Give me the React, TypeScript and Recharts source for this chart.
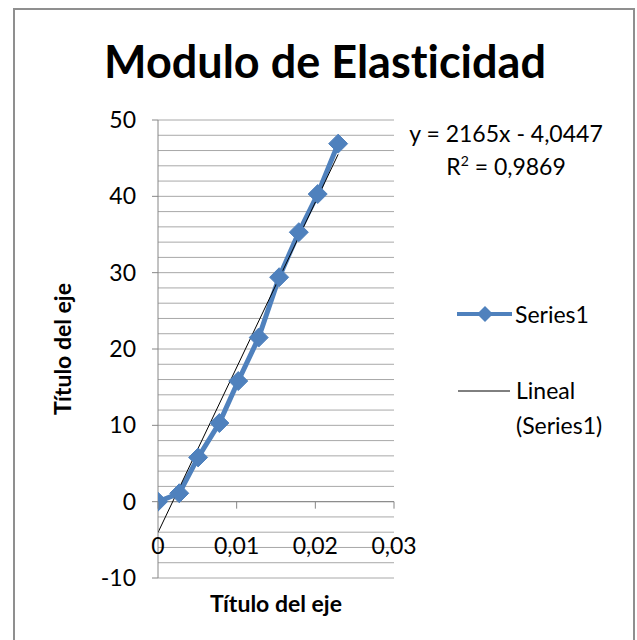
import React from "react";
import {
  ComposedChart,
  Line,
  XAxis,
  YAxis,
  CartesianGrid,
  ReferenceLine,
  Label,
} from "recharts";

// strain (x) and stress (y)
const strain = [0, 0.0027, 0.0051, 0.0078, 0.0102, 0.0128, 0.0154, 0.0179, 0.0203, 0.0229];
const stress = [0, 1.1, 5.8, 10.3, 15.8, 21.5, 29.4, 35.3, 40.3, 46.9];

// linear trendline ends, as drawn
const trendX = [0, 0.0229];
const trendY = [-4.04, 45.5];

const xTicks = [0, 0.01, 0.02, 0.03];
const yTicks = [-10, 0, 10, 20, 30, 40, 50];
const minorGrid = [-10, -8, -6, -4, -2, 0, 2, 4, 6, 8, 10, 12, 14, 16, 18, 20, 22, 24, 26, 28, 30, 32, 34, 36, 38, 40, 42, 44, 46, 48, 50];

const equation = "y = 2165x - 4,0447";
const rSquared = "0,9869";

const series = strain.map((x, i) => ({ x, y: stress[i] }));
const trend = trendX.map((x, i) => ({ x, y: trendY[i] }));

const W = 637;
const H = 640;
const TOP = 120;
const BOTTOM = 578;
const Y_MIN = -10;
const Y_MAX = 50;
const BLUE = "#4F81BD";
const GRID = "#a8a8a8";
const AXIS = "#868686";
const FONT = "Lato, 'Open Sans', sans-serif";
const TICK_FS = 23;

const Diamond = (props: any) => {
  const { cx, cy } = props;
  if (cx == null || cy == null) return null;
  const r = 9.5;
  return (
    <polygon
      points={`${cx},${cy - r} ${cx + r},${cy} ${cx},${cy + r} ${cx - r},${cy}`}
      fill={BLUE}
      stroke={BLUE}
    />
  );
};

// x axis crosses at y = 0, so ticks and labels are drawn there
const XTick = (props: any) => {
  const { x, y, payload } = props;
  const y0 = y - ((0 - Y_MIN) / (Y_MAX - Y_MIN)) * (BOTTOM - TOP);
  return (
    <g>
      <line x1={x} x2={x} y1={y0} y2={y0 + 7} stroke={AXIS} />
      <text
        x={x}
        y={y0 + 52}
        textAnchor="middle"
        fontSize={TICK_FS}
        fontFamily={FONT}
        fill="#000"
      >
        {String(payload.value).replace(".", ",")}
      </text>
    </g>
  );
};

const App = () => {
  return (
    <div
      style={{
        position: "absolute",
        left: 0,
        top: 0,
        width: W,
        height: H,
        background: "#fff",
        overflow: "hidden",
        fontVariantLigatures: "none",
      }}
    >
      <div
        style={{
          position: "absolute",
          left: 13,
          top: 8,
          width: 622,
          height: 700,
          border: "2px solid #8f8f8f",
          boxSizing: "border-box",
        }}
      />
      <ComposedChart
        width={W}
        height={H}
        margin={{ top: TOP, right: 243, bottom: 0, left: 0 }}
        style={{ position: "absolute", left: 0, top: 0, fontFamily: FONT }}
      >
        <CartesianGrid
          vertical={false}
          horizontalValues={minorGrid}
          stroke={GRID}
          strokeDasharray=""
        />
        <XAxis
          type="number"
          dataKey="x"
          domain={[0, 0.03]}
          ticks={xTicks}
          axisLine={false}
          tickLine={false}
          tickSize={0}
          tickMargin={0}
          height={H - BOTTOM}
          tick={<XTick />}
          interval={0}
          allowDataOverflow
        >
          <Label
            value="Título del eje"
            position="insideBottom"
            offset={28}
            style={{ fontSize: 23, fontWeight: 700, fontFamily: FONT, fill: "#000" }}
          />
        </XAxis>
        <YAxis
          type="number"
          domain={[Y_MIN, Y_MAX]}
          ticks={yTicks}
          width={158}
          axisLine={{ stroke: AXIS }}
          tickLine={{ stroke: AXIS }}
          tickSize={6}
          tickMargin={16}
          interval={0}
          tick={{ fontSize: TICK_FS, fill: "#000", fontFamily: FONT }}
        >
          <Label
            value="Título del eje"
            angle={-90}
            position="insideLeft"
            offset={63}
            style={{ textAnchor: "middle", fontSize: 23, fontWeight: 700, fontFamily: FONT, fill: "#000" }}
          />
        </YAxis>
        <ReferenceLine y={0} stroke={AXIS} strokeWidth={1} />
        <Line
          data={series}
          dataKey="y"
          type="linear"
          stroke={BLUE}
          strokeWidth={5}
          dot={<Diamond />}
          activeDot={false}
          isAnimationActive={false}
        />
        <Line
          data={trend}
          dataKey="y"
          type="linear"
          stroke="#000"
          strokeWidth={1}
          dot={false}
          activeDot={false}
          isAnimationActive={false}
        />
      </ComposedChart>

      <div
        style={{
          position: "absolute",
          left: 0,
          width: 650,
          top: 34,
          textAlign: "center",
          fontFamily: FONT,
          fontWeight: 700,
          fontSize: 45,
          lineHeight: "54px",
          color: "#000",
        }}
      >
        Modulo de Elasticidad
      </div>

      <div
        style={{
          position: "absolute",
          left: 396,
          width: 220,
          top: 117,
          textAlign: "center",
          fontFamily: FONT,
          fontSize: 23,
          lineHeight: "33px",
          color: "#000",
        }}
      >
        <div>{equation}</div>
        <div>
          R<sup style={{ fontSize: 14, verticalAlign: "9px", lineHeight: 0 }}>2</sup> = {rSquared}
        </div>
      </div>

      <div style={{ position: "absolute", left: 456, top: 297, fontFamily: FONT, fontSize: 23, color: "#000" }}>
        <div style={{ display: "flex", alignItems: "center", height: 34 }}>
          <svg width={57} height={22}>
            <line x1={1} x2={56} y1={11} y2={11} stroke={BLUE} strokeWidth={4} />
            <polygon points="29,3 37,11 29,19 21,11" fill={BLUE} />
          </svg>
          <span style={{ marginLeft: 2 }}>Series1</span>
        </div>
        <div style={{ display: "flex", alignItems: "flex-start", marginTop: 42 }}>
          <svg width={57} height={34}>
            <line x1={2} x2={54} y1={18} y2={18} stroke="#000" strokeWidth={1} />
          </svg>
          <div style={{ marginLeft: 3, lineHeight: "35px" }}>
            <div>Lineal</div>
            <div>(Series1)</div>
          </div>
        </div>
      </div>
    </div>
  );
};

export default App;
